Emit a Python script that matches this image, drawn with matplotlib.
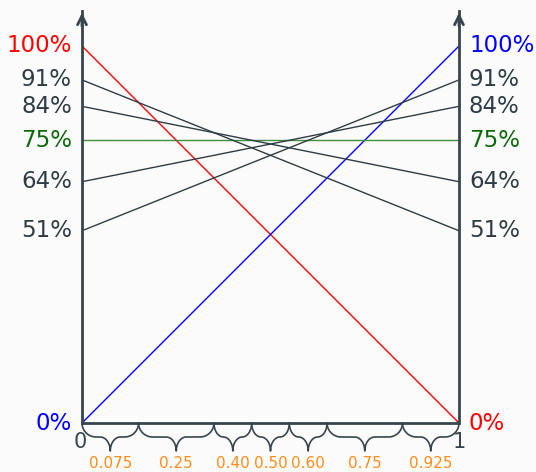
import numpy as np
import matplotlib
matplotlib.use("Agg")
import matplotlib.pyplot as plt

plt.rcParams['font.family'] = ['DejaVu Sans']

# ---- data ----
series_names = ["red", "blue", "green", "a", "b", "c", "d"]
start_values = [100, 0, 75, 91, 84, 64, 51]
end_values = [0, 100, 75, 51, 64, 84, 91]
line_colors = ["#ff0000", "#0000ff", "#3f8f3f", "#2e3d45", "#2e3d45", "#2e3d45", "#2e3d45"]

left_ticks = [100, 91, 84, 75, 64, 51, 0]
left_colors = ["#ff0000", "#2e3d45", "#2e3d45", "#0b6b0b", "#2e3d45", "#2e3d45", "#0000ff"]
right_ticks = [100, 91, 84, 75, 64, 51, 0]
right_colors = ["#0000ff", "#2e3d45", "#2e3d45", "#0b6b0b", "#2e3d45", "#2e3d45", "#ff0000"]

brace_edges = [0, 0.15, 0.35, 0.45, 0.55, 0.65, 0.85, 1.0]
brace_labels = ["0.075", "0.25", "0.40", "0.50", "0.60", "0.75", "0.925"]

AX = "#37464e"
ORANGE = "#ff8c1a"
BG = "#fbfbfb"

W, H = 536, 472
fig = plt.figure(figsize=(W / 100, H / 100), dpi=100, facecolor=BG)
x0_px, x1_px = 82, 459
y0_px, ytop_px = 423, 10
px_per_x = (x1_px - x0_px)
px_per_pct = (423 - 46) / 100.0
ax = fig.add_axes([x0_px / W, (H - y0_px) / H, (x1_px - x0_px) / W, (y0_px - ytop_px) / H])
ax.set_facecolor(BG)
ymax = (y0_px - ytop_px) / px_per_pct
ax.set_xlim(0, 1)
ax.set_ylim(0, ymax)
ax.axis("off")

for s, e, c in zip(start_values, end_values, line_colors):
    ax.plot([0, 1], [s, e], color=c, lw=1.0, solid_capstyle="butt", zorder=2)

# axes
for xv in (0, 1):
    ax.plot([xv, xv], [0, ymax - 0.3], color=AX, lw=2, zorder=3, clip_on=False)
    ax.annotate("", xy=(xv, ymax), xytext=(xv, ymax - 5),
                arrowprops=dict(arrowstyle="->", color=AX, lw=2, mutation_scale=16),
                annotation_clip=False, zorder=3)
ax.plot([0, 1], [0, 0], color=AX, lw=2, zorder=3, clip_on=False, solid_capstyle="butt")

fs = 16.5
for v, c in zip(left_ticks, left_colors):
    ax.text(-10 / px_per_x, v, f"{v}%", color=c, fontsize=fs, ha="right", va="center")
for v, c in zip(right_ticks, right_colors):
    ax.text(1 + 10 / px_per_x, v, f"{v}%", color=c, fontsize=fs, ha="left", va="center")

ax.text(-2 / px_per_x, -19 / px_per_pct, "0", color=AX, fontsize=15, ha="center", va="center")
ax.text(1, -19 / px_per_pct, "1", color=AX, fontsize=15, ha="center", va="center")


def brace(a, b, b1=14.0, b2=14.0):
    hw = (b - a) * px_per_x / 2
    a1 = min(14.0, hw * 0.5)
    a2 = min(10.0, hw * 0.5)
    t = np.linspace(0, np.pi / 2, 60)
    x1 = a1 * (1 - np.cos(t))
    y1 = b1 * np.sin(t)
    x2 = hw - a2 + a2 * np.sin(t)
    y2 = b1 + b2 * (1 - np.cos(t))
    xs = np.concatenate([x1, x2])
    ds = np.concatenate([y1, y2])
    xfull = np.concatenate([xs, 2 * hw - xs[::-1][1:]])
    dfull = np.concatenate([ds, ds[::-1][1:]])
    ax.plot(a + xfull / px_per_x, -dfull / px_per_pct, color=AX, lw=1.2, clip_on=False, zorder=3)


for i, lab in enumerate(brace_labels):
    a, b = brace_edges[i], brace_edges[i + 1]
    brace(a, b)
    ax.text((a + b) / 2, -40 / px_per_pct, lab, color=ORANGE, fontsize=11, ha="center", va="center")

fig.savefig("out.png", dpi=100, facecolor=BG)
